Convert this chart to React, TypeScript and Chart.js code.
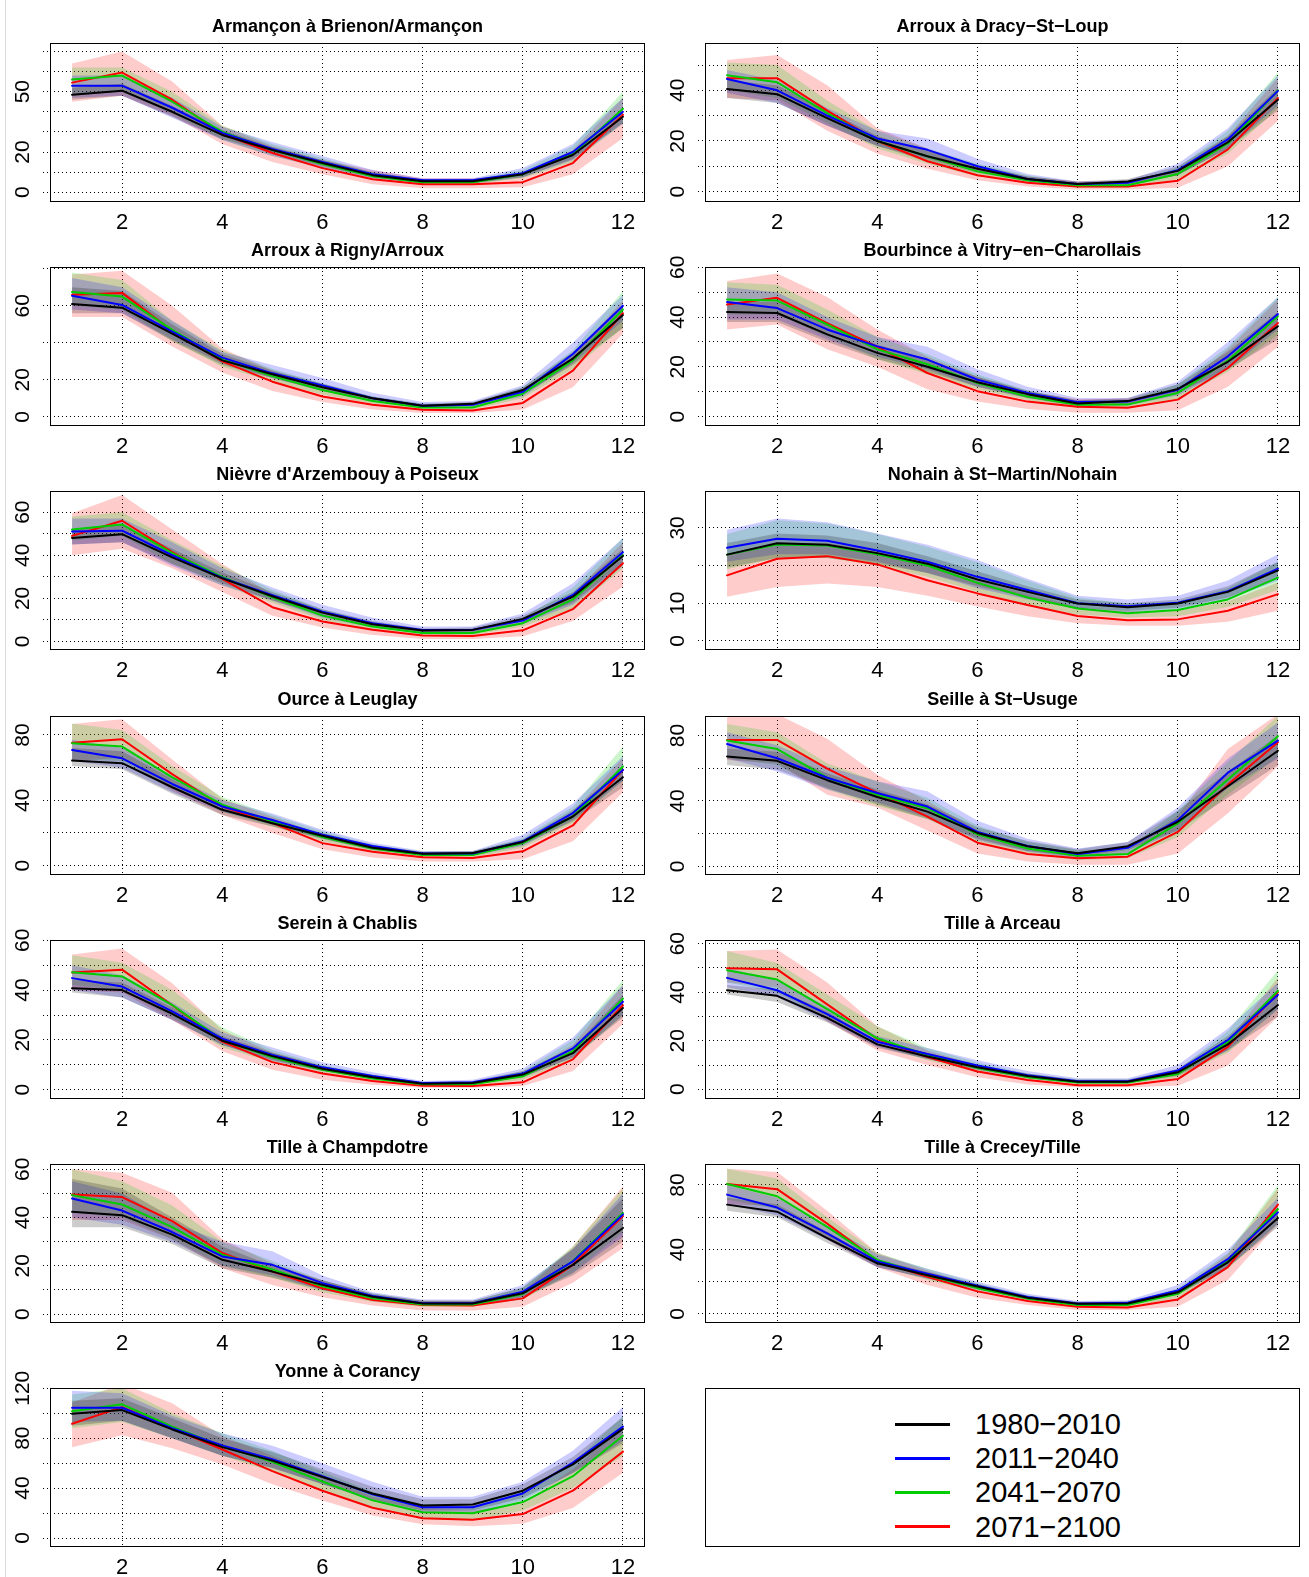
import React, { useEffect, useRef } from "react";
import { Chart, registerables } from "chart.js";

Chart.register(...registerables);

// ---------- shared categories / labels ----------
const MONTHS = [1, 2, 3, 4, 5, 6, 7, 8, 9, 10, 11, 12];
const X_TICKS = [2, 4, 6, 8, 10, 12];
const PERIODS = ["1980\u22122010", "2011\u22122040", "2041\u22122070", "2071\u22122100"];

// ---------- data: [1980-2010, 2011-2040, 2041-2070, 2071-2100] ----------
// 1 Armançon à Brienon/Armançon
const ARMANCON_MEAN = [
  [48.5, 50.5, 40, 28.5, 21, 14.5, 8.5, 5.5, 5.5, 9, 18.5, 37.5],
  [53, 53, 42, 29.5, 21.5, 15, 9, 6, 6, 9.5, 20, 40],
  [56, 58, 45, 30, 21, 14, 8, 5, 5, 9, 19, 41.5],
  [54.5, 59.5, 46, 29, 19.5, 12, 6.5, 4, 4, 5, 14.5, 38.5],
];
const ARMANCON_HI = [
  [52, 54, 43, 31, 22.5, 16, 10, 6.5, 6.5, 10, 20.5, 41],
  [58, 58, 47, 32.5, 25, 18, 11, 7, 7, 12, 24, 47],
  [62, 62, 50, 33, 24, 17, 10, 6.5, 6.5, 11, 23, 50],
  [64, 70, 55, 33, 23, 16, 11, 7, 7, 9, 21, 47],
];
const ARMANCON_LO = [
  [46, 48, 37.5, 26.5, 19.5, 13, 7.5, 4.5, 4.5, 7.5, 16.5, 34.5],
  [47, 48, 37, 26, 18, 12, 7, 4.5, 4.5, 7.5, 16, 34],
  [48, 50, 39, 26, 18, 12, 7, 4, 4, 7, 15, 34],
  [45, 48, 38, 24, 15, 9, 4, 2, 2, 2.5, 9, 27],
];
// 2 Arroux à Dracy-St-Loup
const DRACY_MEAN = [
  [40.5, 38.5, 29, 20, 14, 9, 5, 3, 4, 8.2, 19.5, 36.3],
  [44.5, 40, 30, 21, 16.5, 10, 5, 3, 3.5, 8.5, 20.6, 39.8],
  [46, 43.2, 31, 20, 14, 8, 4.5, 2.5, 2.5, 7, 19, 40],
  [44.8, 44.8, 32, 20, 12, 6.5, 3.5, 2, 2, 4.3, 16.7, 37],
];
const DRACY_HI = [
  [44, 42, 32, 22, 16, 10.5, 6, 4, 5, 10, 22, 41],
  [48, 44, 33, 24, 21, 13, 7, 4, 4.5, 11, 25, 46],
  [51, 50, 36, 24, 17, 11, 6.5, 3.5, 3.5, 9.5, 24, 47],
  [52, 54, 42, 25, 17, 10, 6, 4, 4, 8.5, 22, 45],
];
const DRACY_LO = [
  [37, 35, 26, 18, 12, 7.5, 4, 2, 3, 6.5, 17, 32],
  [39, 35, 26, 18, 13, 8, 4, 2, 2.5, 6.5, 17, 34],
  [40, 37, 27, 17, 11, 6, 3.5, 1.5, 1.5, 5, 15, 33],
  [37, 36, 24, 15, 9, 4.5, 2, 0.8, 0.8, 1.5, 10, 28],
];
// 3 Arroux à Rigny/Arroux
const RIGNY_MEAN = [
  [61, 59, 45, 30.5, 23, 16, 10, 6, 7, 14.5, 31.5, 55],
  [65.5, 60.5, 46, 32, 23.5, 17, 10, 6, 6.5, 13.5, 34, 60],
  [67.5, 65, 47, 31, 22, 14.5, 8.5, 5, 5, 12.5, 30.5, 58],
  [66, 67, 46.5, 30, 19, 11, 6.5, 3.8, 3.4, 7.5, 25, 56],
];
const RIGNY_HI = [
  [70, 68, 50, 34, 25, 18, 11, 7, 8, 16, 35, 60],
  [75, 70, 52, 35, 28, 21, 13, 8, 8.5, 17, 40, 66],
  [78, 74, 52, 36, 26, 18, 11, 7, 7, 16, 36, 68],
  [77, 79, 60, 37, 25, 16, 10, 6.5, 6, 12, 33, 63],
];
const RIGNY_LO = [
  [56, 56, 41, 28, 21, 14, 8.5, 5, 6, 12, 28, 48],
  [58, 56, 42, 29, 21, 14, 8.5, 5, 5.5, 11, 29, 52],
  [60, 58, 41, 27, 19, 12, 7, 4, 4, 10, 26, 48],
  [54, 54, 38, 24, 14, 8, 4, 2, 2, 4, 16, 45],
];
// 4 Bourbince à Vitry-en-Charollais
const BOURBINCE_MEAN = [
  [42, 41.6, 33, 25.6, 20, 13.8, 9, 5.2, 6.2, 11.1, 22, 36.3],
  [46, 43.6, 35, 28.2, 22.9, 14.8, 9.5, 5.8, 6, 10.8, 24.2, 41.2],
  [47, 46.6, 37, 27, 21, 13.5, 8, 4.7, 4.8, 9.5, 22.5, 40.3],
  [45, 47.7, 37.5, 28, 17.5, 10.2, 6, 3.9, 3.5, 6.8, 19.5, 37.6],
];
const BOURBINCE_HI = [
  [46, 46, 37, 29, 23, 16, 10.5, 6.5, 7.5, 13, 26, 42],
  [52, 50, 40, 32, 28, 19, 12, 7.5, 7.5, 14, 30, 48],
  [54, 53, 43, 32, 25, 17, 10.5, 6.5, 6.5, 13, 28, 48],
  [54.5, 57.5, 48, 35, 24, 16, 10, 7, 7, 11, 27, 47],
];
const BOURBINCE_LO = [
  [38, 38, 30, 23, 18, 12, 7.5, 4, 5, 9.5, 19, 31],
  [39, 39, 31, 24, 19, 12, 7.5, 4.5, 4.5, 8.5, 19, 35],
  [41, 41, 32, 23, 17, 11, 6.5, 3.5, 3.5, 7, 18, 33],
  [35, 37, 27, 20, 11, 6, 3, 1.5, 1.5, 2.5, 12, 28],
];
// 5 Nièvre d'Arzembouy à Poiseux
const NIEVRE_MEAN = [
  [48, 49.8, 39, 29.3, 21, 13.4, 8, 5.1, 5.4, 10.5, 20.8, 39.7],
  [51, 51.4, 40, 29.5, 21.5, 13.8, 8.5, 5.4, 5.5, 9.7, 21.6, 41.4],
  [52, 54.3, 41, 30, 20.5, 12, 7, 4, 4, 8.5, 19.5, 40.1],
  [49, 56, 41.5, 29, 15.9, 9.3, 5.5, 2.8, 2.6, 5.2, 15, 36.3],
];
const NIEVRE_HI = [
  [52, 54, 43, 32, 23, 15, 9.5, 6, 6.5, 12, 23, 43],
  [57, 57, 46, 34, 25, 17, 11, 7, 7, 13, 27, 48],
  [58, 60, 47, 35, 24, 15, 9, 5.5, 5.5, 11, 25, 48],
  [59.5, 68, 52, 36, 22, 14, 8.5, 5, 5, 9, 22, 46],
];
const NIEVRE_LO = [
  [45, 46, 36, 27, 19, 12, 7, 4.3, 4.5, 9, 18, 36],
  [45, 46, 35, 26, 19, 11, 6.5, 4, 4, 8, 17, 35],
  [47, 49, 36, 26, 18, 10, 5.5, 3, 3, 7, 15, 34],
  [40, 43, 34, 23, 12, 6.5, 3, 1.2, 1.2, 2.5, 9.5, 25.5],
];
// 6 Nohain à St-Martin/Nohain
const NOHAIN_MEAN = [
  [22.9, 25.9, 25.5, 23.3, 20.5, 16.3, 13, 9.9, 8.9, 9.9, 13, 18.7],
  [24.7, 27.1, 26.6, 24, 21, 17, 13.5, 10, 9.2, 10.1, 13.2, 19.2],
  [22.9, 25.6, 25.3, 23, 20, 15.4, 11.5, 8.6, 7.3, 8.2, 11, 16.8],
  [17.4, 21.8, 22.5, 20.3, 16.1, 12.6, 9.5, 6.6, 5.5, 5.7, 8, 12.4],
];
const NOHAIN_HI = [
  [26, 28.5, 28, 26, 22.5, 18.5, 14.5, 11, 10, 11, 14.5, 21],
  [29.5, 32.5, 31.5, 28.5, 25.5, 21.5, 16.5, 12, 11, 12, 16, 23],
  [28.4, 32, 31.2, 28.4, 25, 20.9, 16, 11.5, 9.9, 10.5, 14, 21],
  [23, 26, 26, 24, 20, 16, 12.5, 9, 8, 8, 10.5, 15.5],
];
const NOHAIN_LO = [
  [19.5, 22, 22, 20.5, 18, 14.5, 11.5, 8.8, 8, 8.8, 11.5, 16.5],
  [21, 23, 23, 21, 18, 14, 11, 8.5, 7.5, 8.5, 11, 16],
  [19, 22, 22, 20, 17, 13, 9.5, 7, 6.2, 6.5, 9, 13.5],
  [11.7, 14.3, 15.2, 14.3, 12, 9.1, 6.5, 4.7, 4, 4, 5.1, 8],
];
// 7 Ource à Leuglay
const OURCE_MEAN = [
  [64.3, 62.7, 48, 34.2, 26, 18.3, 11, 7.3, 7.7, 14.5, 30.1, 54.1],
  [70.8, 65.7, 50, 36.2, 28, 19, 12, 7.5, 7.5, 14.9, 32.2, 58.6],
  [74.9, 72.9, 54, 37.3, 27, 17.5, 10.5, 6.5, 6.5, 13.8, 30.1, 60.7],
  [75.3, 77.4, 56, 36.2, 26, 13.8, 8.5, 5.1, 4.7, 8.8, 24.6, 58.6],
];
const OURCE_HI = [
  [72, 70, 53, 37, 28, 20, 12.5, 8.5, 9, 16, 34, 60],
  [77, 72, 55, 40, 32, 22, 14, 9, 9, 19, 38, 67],
  [87, 83, 61, 42, 31, 21, 13, 8.5, 8.5, 17, 36, 73],
  [86.7, 89.6, 65, 41, 30, 19, 12, 8, 8, 14, 33, 66],
];
const OURCE_LO = [
  [61, 59, 44, 31, 24, 16.5, 9.5, 6.5, 6.5, 13, 27, 48],
  [64, 60, 45, 33, 25, 16.5, 10, 6, 6, 12, 28, 52],
  [65, 64, 48, 33, 24, 15, 8.5, 5, 5, 11, 26, 52],
  [64, 66, 46, 31, 20, 10, 5, 2.5, 2.5, 4, 15, 45],
];
// 8 Seille à St-Usuge
const SEILLE_MEAN = [
  [67.2, 64.5, 52.7, 42.4, 33.5, 20.5, 12.4, 8.1, 12.4, 27.3, 49, 70.7],
  [74.8, 66.1, 54.2, 44.9, 36.6, 21.1, 12.5, 7.6, 11.4, 28.3, 57.3, 76.9],
  [76.9, 71.7, 54.2, 43.8, 35.6, 19.6, 11, 6.6, 7.6, 26.3, 53.1, 79.6],
  [77.3, 77.3, 59.7, 44.9, 30.4, 14.5, 7.6, 5, 6, 21.1, 50, 75.9],
];
const SEILLE_HI = [
  [72, 70, 57, 47, 38, 24, 15.5, 10.5, 15, 34, 58, 80],
  [82, 74, 61, 52, 46, 28, 17, 11, 15, 36, 66, 88],
  [87, 82, 63, 52, 42, 25, 15, 10, 11, 34, 64, 92],
  [91.4, 93, 78, 56, 40, 22, 12, 9, 10, 31, 71.7, 93],
];
const SEILLE_LO = [
  [62, 59, 48, 38, 29, 17, 9.5, 6, 10, 22, 42, 62],
  [66, 58, 47, 39, 30, 16, 9, 5, 8, 22, 48, 66],
  [66, 62, 47, 37, 29, 15, 8, 4, 5, 18, 44, 67],
  [65, 63, 43.8, 36, 22, 8, 3, 1, 1, 8, 32.5, 61],
];
// 9 Serein à Chablis
const SEREIN_MEAN = [
  [40.7, 40, 30.5, 19.7, 13.5, 8.4, 5, 2.4, 2.7, 6.1, 14.7, 32.8],
  [44.8, 41.4, 31.5, 20.5, 14, 9, 5.5, 2.7, 3, 6.5, 16.6, 35.3],
  [47.2, 45.5, 34, 19.9, 13, 8, 4.5, 2.2, 2.2, 5.4, 15.5, 36.6],
  [47.1, 48.2, 33.9, 19.3, 11.1, 6.5, 3.5, 1.6, 1.5, 3, 12.2, 33.9],
];
const SEREIN_HI = [
  [44, 43, 33, 21.5, 15, 9.5, 6, 3, 3.5, 7.5, 17, 38],
  [50, 46, 35, 23, 17, 11, 7, 3.5, 4, 8.5, 21, 42],
  [54, 51, 40, 25, 16, 10, 6, 3, 3, 7.5, 20, 44],
  [54.3, 56.7, 42.7, 24, 15, 9.5, 5.5, 3, 3, 6.5, 18, 42],
];
const SEREIN_LO = [
  [39, 37, 28, 18, 12, 7.5, 4.3, 1.8, 2, 5, 13, 29],
  [40, 37, 28, 18, 11.5, 7.5, 4.5, 2, 2.2, 5, 13, 30],
  [42, 40, 29, 17, 11, 6.5, 3.5, 1.5, 1.5, 4, 12, 30],
  [40, 39, 28, 15.5, 8, 4, 2, 0.8, 0.8, 1.5, 7.5, 26.5],
];
// 10 Tille à Arceau
const ARCEAU_MEAN = [
  [40.8, 38.5, 29.4, 18.5, 13.5, 9.1, 5.5, 3.1, 3.1, 7, 18.5, 34.7],
  [45.9, 40.8, 31, 19.6, 14.5, 9.8, 5.8, 3.3, 3.3, 7.7, 20.3, 38.9],
  [49, 45.2, 33, 21, 14, 8.8, 5, 2.8, 2.8, 6.3, 19.5, 40.6],
  [49.9, 49.4, 35, 20.7, 13.3, 7.3, 3.8, 1.7, 1.7, 4.2, 17.5, 39.9],
];
const ARCEAU_HI = [
  [43, 41, 32, 20, 15, 10, 6.5, 4, 4, 8.5, 22, 40],
  [50, 45, 34, 22, 17, 12, 7.5, 4.5, 4.5, 10, 25, 44],
  [57, 52, 39, 26, 17, 11, 6.5, 4, 4, 8, 24, 49],
  [57, 57.6, 44, 26, 16, 10, 6, 3, 3, 7, 20, 46],
];
const ARCEAU_LO = [
  [39, 36, 27.5, 17, 12.5, 8, 4.5, 2.5, 2.5, 5.5, 16, 30],
  [42, 38, 28, 17.5, 12.5, 8, 4.5, 2.5, 2.5, 6, 16, 33],
  [44, 40, 29, 18, 12, 7, 4, 2, 2, 5, 15, 33],
  [44, 42, 28, 16, 10, 5, 2, 0.8, 0.8, 1.5, 9.8, 30],
];
// 11 Tille à Champdotre
const CHAMPDOTRE_MEAN = [
  [42.4, 41, 32.9, 22.5, 17.6, 12.1, 7.2, 4.4, 4.4, 8.6, 20.4, 35.7],
  [47.9, 42.9, 34, 23.9, 20.4, 12.8, 7.5, 4.5, 4.5, 9.3, 21.8, 41.3],
  [49.3, 45.4, 36, 24.6, 18.5, 11.5, 6.5, 4, 4, 8.3, 22, 41.9],
  [49.6, 48.5, 38.5, 25.3, 17.6, 10.7, 5.8, 3.75, 3.5, 6.5, 20.4, 40.6],
];
const CHAMPDOTRE_HI = [
  [56, 52, 40, 28, 20, 14, 8.5, 5.5, 5.5, 11, 27, 48],
  [55, 50, 38, 30, 26, 16, 9, 6, 6, 12, 27, 50],
  [60, 55, 45, 30, 22, 14, 8.5, 5.5, 5.5, 11, 28, 52],
  [60, 58.6, 50.3, 31, 21, 14, 8, 5.5, 5.5, 9, 28, 53],
];
const CHAMPDOTRE_LO = [
  [36, 36, 29, 19, 15, 10, 6, 3.5, 3.5, 7, 16, 30],
  [40, 37, 30, 20, 16, 10, 6, 3.5, 3.5, 7, 17, 32],
  [42, 40, 31, 20, 15, 9, 5, 3, 3, 6, 17, 34],
  [39, 39, 31, 19, 12, 7, 3.5, 1.5, 1.5, 3, 13, 27.4],
];
// 12 Tille à Crecey/Tille
const CRECEY_MEAN = [
  [67.8, 63.4, 47, 31.4, 24, 17, 10, 6.4, 6.5, 13.4, 32, 59.5],
  [74, 66, 50, 32.5, 25, 17.5, 10.5, 6.5, 7, 14.5, 34, 63],
  [80.6, 73, 54, 33.5, 24, 16, 9.5, 5.5, 5.5, 12.5, 33, 65],
  [80.6, 77.4, 56, 33, 23, 14, 8, 4.5, 4, 9, 29, 67.8],
];
const CRECEY_HI = [
  [72, 68, 51, 34, 26, 18.5, 11.5, 7.5, 8, 15, 35, 66],
  [80, 72, 55, 37, 28, 20, 12.5, 8, 8.5, 18, 40, 72],
  [90, 84, 60, 38, 28, 19, 11.5, 7, 7, 16, 38, 80],
  [90, 88, 64, 38, 27, 17, 10, 6.5, 6.5, 14, 37, 78],
];
const CRECEY_LO = [
  [64, 60, 44, 29, 22, 15.5, 9, 5.5, 5.5, 12, 29, 54],
  [68, 61, 46, 29, 22, 15, 9, 5.5, 5.5, 12, 29, 56],
  [71, 65, 48, 30, 21, 14, 8, 4, 4, 10, 28, 56],
  [68, 67, 46, 29, 18, 10, 5.5, 2.5, 2.5, 4.5, 21, 56],
];
// 13 Yonne à Corancy
const YONNE_MEAN = [
  [99.5, 102.5, 87, 72.8, 62, 48.9, 35.7, 26.1, 26.9, 37.9, 59, 87.4],
  [104.4, 104.4, 88, 74.2, 63.2, 49.5, 35, 24.7, 24.7, 35.7, 60.4, 89.3],
  [101.6, 107.1, 89.3, 73.6, 61, 45.3, 30.2, 20.6, 19.8, 28.8, 49.5, 81.9],
  [91.5, 104.9, 87.9, 70.9, 53.6, 37.9, 24.2, 15.9, 14.6, 19.2, 37.9, 69.2],
];
const YONNE_HI = [
  [110, 112, 96, 80, 69, 55, 41, 31, 31, 43, 65, 97],
  [118, 116, 98, 84, 74, 60, 45, 33, 33, 45, 70, 105],
  [115, 120, 100, 84, 70, 53, 37, 27, 26, 37, 60, 98],
  [108.5, 123.6, 108, 82, 66, 50, 33, 24, 22, 28, 55, 90],
];
const YONNE_LO = [
  [90, 94, 80, 66, 56, 43, 31, 22, 22, 32, 52, 76],
  [93, 94, 80, 66, 56, 43, 30, 20, 20, 30, 52, 78],
  [88, 93, 80, 66, 53, 38, 24, 15, 14, 22, 40, 66],
  [72.8, 82.4, 72, 59, 43, 30, 18, 11, 9.5, 11.5, 24, 52.2],
];

// ---------- axis setup per station ----------
const TITLES = [
  "Armançon à Brienon/Armançon",
  "Arroux à Dracy\u2212St\u2212Loup",
  "Arroux à Rigny/Arroux",
  "Bourbince à Vitry\u2212en\u2212Charollais",
  "Nièvre d'Arzembouy à Poiseux",
  "Nohain à St\u2212Martin/Nohain",
  "Ource à Leuglay",
  "Seille à St\u2212Usuge",
  "Serein à Chablis",
  "Tille à Arceau",
  "Tille à Champdotre",
  "Tille à Crecey/Tille",
  "Yonne à Corancy",
];
const Y_RANGES = [
  [-4.6, 74.2], [-3.9, 58.7], [-4.7, 81], [-3.6, 60.1], [-3.7, 69.8], [-2.3, 39.8],
  [-5.4, 91.6], [-4.9, 91.9], [-3.5, 60.1], [-3.8, 61.5], [-3.5, 62.2], [-5.3, 93], [-6.8, 120.2],
];
const Y_GRID = [
  [0, 10, 20, 30, 40, 50, 60, 70],
  [0, 10, 20, 30, 40, 50],
  [0, 20, 40, 60, 80],
  [0, 10, 20, 30, 40, 50, 60],
  [0, 10, 20, 30, 40, 50, 60],
  [0, 10, 20, 30],
  [0, 20, 40, 60, 80],
  [0, 20, 40, 60, 80],
  [0, 10, 20, 30, 40, 50, 60],
  [0, 10, 20, 30, 40, 50, 60],
  [0, 10, 20, 30, 40, 50, 60],
  [0, 20, 40, 60, 80],
  [0, 20, 40, 60, 80, 100, 120],
];
const Y_LABELS = [
  [0, 20, 50], [0, 20, 40], [0, 20, 60], [0, 20, 40, 60], [0, 20, 40, 60], [0, 10, 30],
  [0, 40, 80], [0, 40, 80], [0, 20, 40, 60], [0, 20, 40, 60], [0, 20, 40, 60], [0, 40, 80],
  [0, 40, 80, 120],
];
const MEANS = [ARMANCON_MEAN, DRACY_MEAN, RIGNY_MEAN, BOURBINCE_MEAN, NIEVRE_MEAN, NOHAIN_MEAN,
  OURCE_MEAN, SEILLE_MEAN, SEREIN_MEAN, ARCEAU_MEAN, CHAMPDOTRE_MEAN, CRECEY_MEAN, YONNE_MEAN];
const HIS = [ARMANCON_HI, DRACY_HI, RIGNY_HI, BOURBINCE_HI, NIEVRE_HI, NOHAIN_HI,
  OURCE_HI, SEILLE_HI, SEREIN_HI, ARCEAU_HI, CHAMPDOTRE_HI, CRECEY_HI, YONNE_HI];
const LOS = [ARMANCON_LO, DRACY_LO, RIGNY_LO, BOURBINCE_LO, NIEVRE_LO, NOHAIN_LO,
  OURCE_LO, SEILLE_LO, SEREIN_LO, ARCEAU_LO, CHAMPDOTRE_LO, CRECEY_LO, YONNE_LO];

// ---------- styles ----------
const LINE_COLORS = ["#000000", "#0000FF", "#00CD00", "#FF0000"];
const BAND_COLORS = ["rgba(0,0,0,0.2)", "rgba(0,0,255,0.2)", "rgba(0,205,0,0.2)", "rgba(255,0,0,0.2)"];
const FONT = '"Liberation Sans", Arial, Helvetica, sans-serif';
const TICK_LEN = 7;
const ROW_STEP = 224.2;
const CANVAS_H = 245;
const BOX_TOP = 43;
const BOX_BOTTOM = 201.5;
const COLS = [
  { left: 0, width: 654, boxLeft: 50, boxRight: 645 },
  { left: 654, width: 655, boxLeft: 51, boxRight: 646 },
];

function Panel({ idx }: { idx: number }) {
  const ref = useRef<HTMLCanvasElement | null>(null);
  const col = COLS[idx % 2];
  const row = Math.floor(idx / 2);
  const top = Math.round(ROW_STEP * row);

  useEffect(() => {
    const canvas = ref.current;
    if (!canvas) return;
    const mean = MEANS[idx];
    const hi = HIS[idx];
    const lo = LOS[idx];
    const datasets: any[] = [];
    for (let s = 0; s < 4; s++) {
      datasets.push({
        label: PERIODS[s],
        data: MONTHS.map((m, i) => ({ x: m, y: mean[s][i] })),
        borderColor: LINE_COLORS[s],
        borderWidth: 2,
        borderJoinStyle: "round",
        borderCapStyle: "round",
        pointRadius: 0,
        fill: false,
        tension: 0,
      });
    }
    for (let s = 0; s < 4; s++) {
      datasets.push({
        label: PERIODS[s] + " max",
        data: MONTHS.map((m, i) => ({ x: m, y: hi[s][i] })),
        borderColor: "rgba(0,0,0,0)",
        borderWidth: 1,
        pointRadius: 0,
        fill: false,
        tension: 0,
      });
      datasets.push({
        label: PERIODS[s] + " min",
        data: MONTHS.map((m, i) => ({ x: m, y: lo[s][i] })),
        borderColor: "rgba(0,0,0,0)",
        borderWidth: 1,
        pointRadius: 0,
        fill: "-1",
        backgroundColor: BAND_COLORS[s],
        tension: 0,
      });
    }

    const title = TITLES[idx];
    const labels = Y_LABELS[idx];
    const grid = Y_GRID[idx];
    const decor = {
      id: "rdecor",
      afterDraw(chart: any) {
        const { ctx, chartArea: a, scales } = chart;
        ctx.save();
        ctx.setLineDash([]);
        ctx.strokeStyle = "#000";
        ctx.lineWidth = 1;
        const l = Math.round(a.left) + 0.5;
        const t = Math.round(a.top) + 0.5;
        const r = Math.round(a.right) - 0.5;
        const b = Math.round(a.bottom) - 0.5;
        ctx.strokeRect(l, t, r - l, b - t);
        ctx.fillStyle = "#000";
        ctx.textAlign = "center";
        ctx.textBaseline = "middle";
        ctx.font = "bold 18px " + FONT;
        ctx.fillText(title, (a.left + a.right) / 2, a.top - 16);
        ctx.font = "22px " + FONT;
        for (const m of X_TICKS) {
          ctx.fillText(String(m), scales.x.getPixelForValue(m), a.bottom + 21);
        }
        ctx.font = "21px " + FONT;
        for (const v of labels) {
          ctx.save();
          ctx.translate(a.left - 27, scales.y.getPixelForValue(v));
          ctx.rotate(-Math.PI / 2);
          ctx.fillText(String(v), 0, 0);
          ctx.restore();
        }
        ctx.restore();
      },
    };

    const chart = new Chart(canvas, {
      type: "line",
      data: { datasets },
      options: {
        animation: false,
        responsive: false,
        devicePixelRatio: 1,
        events: [],
        layout: {
          autoPadding: false,
          padding: {
            left: col.boxLeft - TICK_LEN,
            right: col.width - col.boxRight,
            top: BOX_TOP,
            bottom: CANVAS_H - BOX_BOTTOM,
          },
        },
        plugins: {
          legend: { display: false },
          tooltip: { enabled: false },
          title: { display: false },
        },
        scales: {
          x: {
            type: "linear",
            min: 0.56,
            max: 12.44,
            afterBuildTicks: (sc: any) => {
              sc.ticks = X_TICKS.map((v) => ({ value: v }));
            },
            ticks: { display: false },
            grid: { color: "#000", lineWidth: 1, drawTicks: false },
            border: { display: false, dash: [1, 3] },
          },
          y: {
            type: "linear",
            min: Y_RANGES[idx][0],
            max: Y_RANGES[idx][1],
            afterBuildTicks: (sc: any) => {
              sc.ticks = grid.map((v) => ({ value: v }));
            },
            ticks: { display: false },
            grid: {
              color: "#000",
              lineWidth: 1,
              drawTicks: true,
              tickLength: TICK_LEN,
              tickColor: "#000",
              tickWidth: 1,
              tickBorderDash: [1, 3],
            },
            border: { display: false, dash: [1, 3] },
          },
        },
      } as any,
      plugins: [decor],
    });
    return () => chart.destroy();
  }, [idx]);

  return (
    <canvas
      ref={ref}
      width={col.width}
      height={CANVAS_H}
      style={{ position: "absolute", left: col.left, top, width: col.width, height: CANVAS_H }}
    />
  );
}

function Legend() {
  const top = Math.round(ROW_STEP * 6) + BOX_TOP;
  return (
    <div
      style={{
        position: "absolute",
        left: 705,
        top,
        width: 595,
        height: BOX_BOTTOM - BOX_TOP,
        border: "1px solid #000",
        boxSizing: "border-box",
        fontFamily: FONT,
      }}
    >
      {PERIODS.map((p, i) => (
        <div
          key={p}
          style={{
            position: "absolute",
            left: 0,
            top: 35 + i * 34.2 - 17,
            height: 34,
            width: "100%",
          }}
        >
          <div
            style={{
              position: "absolute",
              left: 189,
              top: 15.5,
              width: 55,
              height: 3,
              background: LINE_COLORS[i],
            }}
          />
          <div
            style={{
              position: "absolute",
              left: 269,
              top: 0,
              height: 34,
              lineHeight: "34px",
              fontSize: 29,
              color: "#000",
              whiteSpace: "nowrap",
            }}
          >
            {p}
          </div>
        </div>
      ))}
    </div>
  );
}

export default function App() {
  return (
    <div
      style={{
        position: "absolute",
        left: 0,
        top: 0,
        width: 1309,
        height: 1577,
        background: "#fff",
        overflow: "hidden",
      }}
    >
      <div style={{ position: "absolute", left: 5, top: 0, width: 1, height: 1577, background: "#dcdcdc" }} />
      {TITLES.map((_, i) => (
        <Panel key={i} idx={i} />
      ))}
      <Legend />
    </div>
  );
}
